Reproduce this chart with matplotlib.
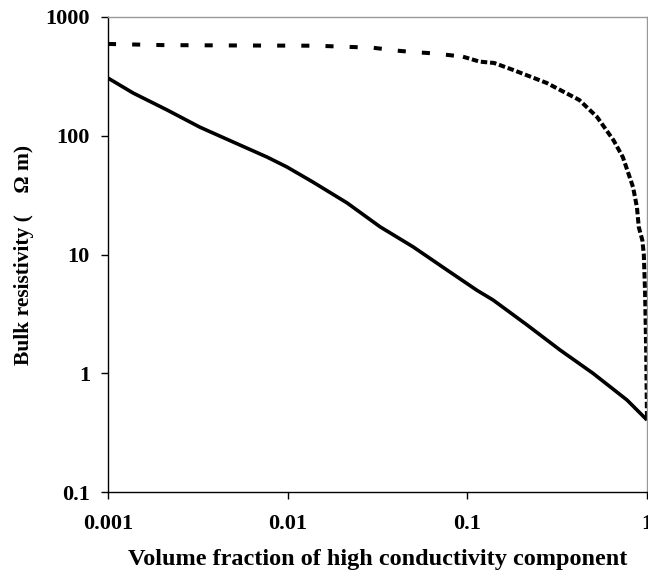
import matplotlib
matplotlib.use("Agg")
import matplotlib.pyplot as plt
import numpy as np
from matplotlib.ticker import FixedLocator, NullLocator, FixedFormatter

# Data
solid_x = [0.001, 0.00138, 0.00213, 0.00325, 0.00497, 0.00767, 0.0099, 0.0138,
           0.0214, 0.0327, 0.0499, 0.0771, 0.113, 0.139, 0.215, 0.328, 0.5,
           0.774, 1.0]
solid_y = [306, 229, 165, 118, 88.6, 66.2, 54.6, 40.8,
           27.2, 17.1, 11.6, 7.4, 5.0, 4.14, 2.55, 1.57, 1.0,
           0.595, 0.404]

dashed_x = [0.001, 0.002, 0.005, 0.0144, 0.0298, 0.0422, 0.0518, 0.0635,
            0.078, 0.0946, 0.117, 0.141, 0.18, 0.277, 0.42, 0.527, 0.65,
            0.734, 0.836, 0.879, 0.9, 0.942, 0.96, 0.975, 0.99, 1.0]
dashed_y = [593, 580, 576, 573, 551, 518, 505, 495,
            479, 463, 421, 410, 358, 278, 200, 144, 92,
            66, 37, 25, 17, 13.2, 10, 5.0, 1.5, 0.4]

x_ticks = [0.001, 0.01, 0.1, 1]
x_tick_labels = ["0.001", "0.01", "0.1", "1"]
y_ticks = [0.1, 1, 10, 100, 1000]
y_tick_labels = ["0.1", "1", "10", "100", "1000"]

plt.rcParams['font.family'] = ['Liberation Serif', 'DejaVu Serif']

fig = plt.figure(figsize=(6.48, 5.74), dpi=100)
ax = fig.add_axes([108 / 648, 82 / 574, 539 / 648, 475 / 574])

ax.plot(solid_x, solid_y, color="black", lw=2.6, solid_capstyle="butt")

dx = np.array(dashed_x)
dy = np.array(dashed_y)
flat = dx <= 0.0946
steep = dx >= 0.0946
ax.plot(dx[flat], dy[flat], color="black", lw=2.9, dashes=(2.0, 4.0),
        dash_capstyle="butt")
ax.plot(dx[steep], dy[steep], color="black", lw=2.9, dashes=(1.6, 0.7),
        dash_capstyle="butt")

ax.set_xscale("log")
ax.set_yscale("log")
ax.set_xlim(0.001, 1)
ax.set_ylim(0.1, 1000)

ax.xaxis.set_major_locator(FixedLocator(x_ticks))
ax.xaxis.set_major_formatter(FixedFormatter(x_tick_labels))
ax.yaxis.set_major_locator(FixedLocator(y_ticks))
ax.yaxis.set_major_formatter(FixedFormatter(y_tick_labels))
ax.xaxis.set_minor_locator(NullLocator())
ax.yaxis.set_minor_locator(NullLocator())

ax.tick_params(axis="both", direction="out", length=5, width=1.0,
               labelsize=16, colors="black")
ax.tick_params(axis="x", pad=11)
ax.tick_params(axis="y", pad=8)
for lab in ax.get_xticklabels() + ax.get_yticklabels():
    lab.set_fontweight("bold")

for side in ["left", "bottom"]:
    ax.spines[side].set_color("black")
    ax.spines[side].set_linewidth(1.0)
for side in ["top", "right"]:
    ax.spines[side].set_color("#999999")
    ax.spines[side].set_linewidth(1.0)

ax.set_xlabel("Volume fraction of high conductivity component",
              fontsize=17.5, fontweight="bold", labelpad=11)
ax.set_ylabel("Bulk resistivity (    \u03a9 m)", fontsize=15.5,
              fontweight="bold", labelpad=8)

fig.savefig("out.png", dpi=100)
